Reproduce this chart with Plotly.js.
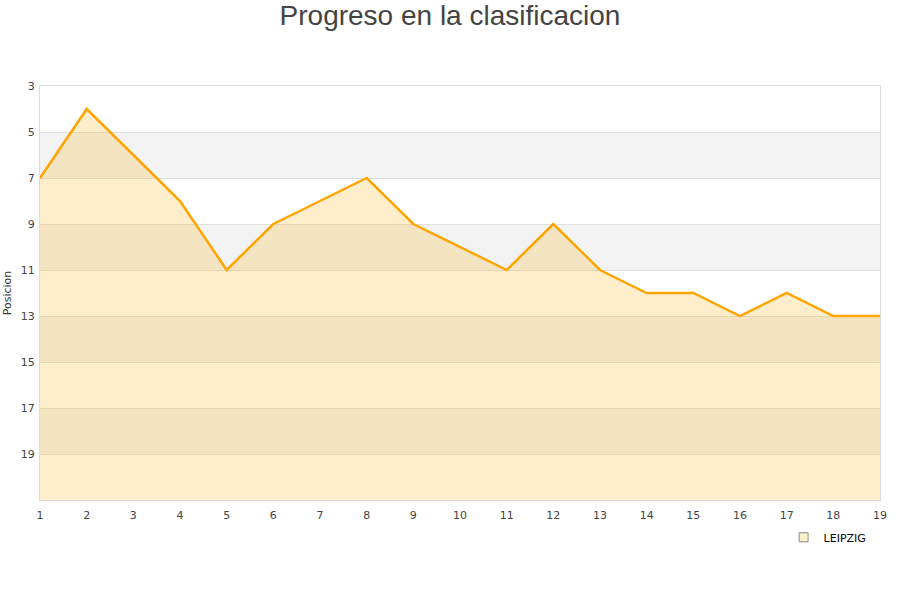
<!DOCTYPE html>
<html>
<head>
<meta charset="utf-8">
<script src="https://cdn.plot.ly/plotly-3.0.1.min.js"></script>
<style>html,body{margin:0;padding:0;background:#fff;}#chart{width:900px;height:600px;}</style>
</head>
<body>
<div id="chart"></div>
<script>
var jornadas = [1,2,3,4,5,6,7,8,9,10,11,12,13,14,15,16,17,18,19];
var posiciones = [7,4,6,8,11,9,8,7,9,10,11,9,11,12,12,13,12,13,13];
var equipo = "LEIPZIG";
var yTicks = [3,5,7,9,11,13,15,17,19];
var bandas = [[5,7],[9,11],[13,15],[17,19]];

var fondo = 21;
var shapes = bandas.map(function(b){
  return {type:'rect', xref:'paper', yref:'y', x0:0, x1:1, y0:b[0], y1:b[1],
    fillcolor:'#f3f3f3', line:{width:0}, layer:'below'};
});

var traces = [
  {x: jornadas, y: jornadas.map(function(){return fondo;}), mode:'lines',
   line:{width:0, color:'rgba(0,0,0,0)'}, showlegend:false, hoverinfo:'skip'},
  {x: jornadas, y: posiciones, mode:'lines', name: equipo, fill:'tonexty',
   fillcolor:'rgba(255,170,0,0.2)', line:{color:'#ffa500', width:2.5}, showlegend:false},
  {x:[null], y:[null], mode:'markers', name: equipo,
   marker:{symbol:'square', size:9, color:'#ffeecc', line:{color:'#888', width:1}}}
];

var layout = {
  width:900, height:600,
  margin:{l:40, r:20, t:86, b:100},
  paper_bgcolor:'#fff', plot_bgcolor:'rgba(0,0,0,0)',
  title:{text:'Progreso en la clasificacion', font:{family:'Liberation Sans, Arial, sans-serif', size:28, color:'#444'}, x:0.5, xanchor:'center', y:0.974, yanchor:'middle'},
  xaxis:{range:[1,19], tickvals:jornadas, showgrid:false, zeroline:false,
    showline:true, mirror:true, linecolor:'#dddddd', linewidth:1,
    ticks:'outside', ticklen:5, tickcolor:'rgba(0,0,0,0)',
    tickfont:{family:'DejaVu Sans, sans-serif', size:11, color:'#444'}},
  yaxis:{range:[fondo,3], tickvals:yTicks, showgrid:true, gridcolor:'#e0e0e0', gridwidth:1,
    zeroline:false, showline:true, mirror:true, linecolor:'#dddddd', linewidth:1,
    ticks:'outside', ticklen:2, tickcolor:'rgba(0,0,0,0)',
    tickfont:{family:'DejaVu Sans, sans-serif', size:11, color:'#444'},
    title:{text:'Posicion', font:{family:'DejaVu Sans, sans-serif', size:11, color:'#333'}, standoff:6}},
  shapes: shapes,
  showlegend:true,
  legend:{x:0.99, xanchor:'right', y:-0.055, yanchor:'top', orientation:'h', itemwidth:30,
    font:{family:'DejaVu Sans, sans-serif', size:11, color:'#000'}, bgcolor:'rgba(0,0,0,0)'}
};

Plotly.newPlot('chart', traces, layout, {displayModeBar:false, staticPlot:true});
</script>
</body>
</html>
